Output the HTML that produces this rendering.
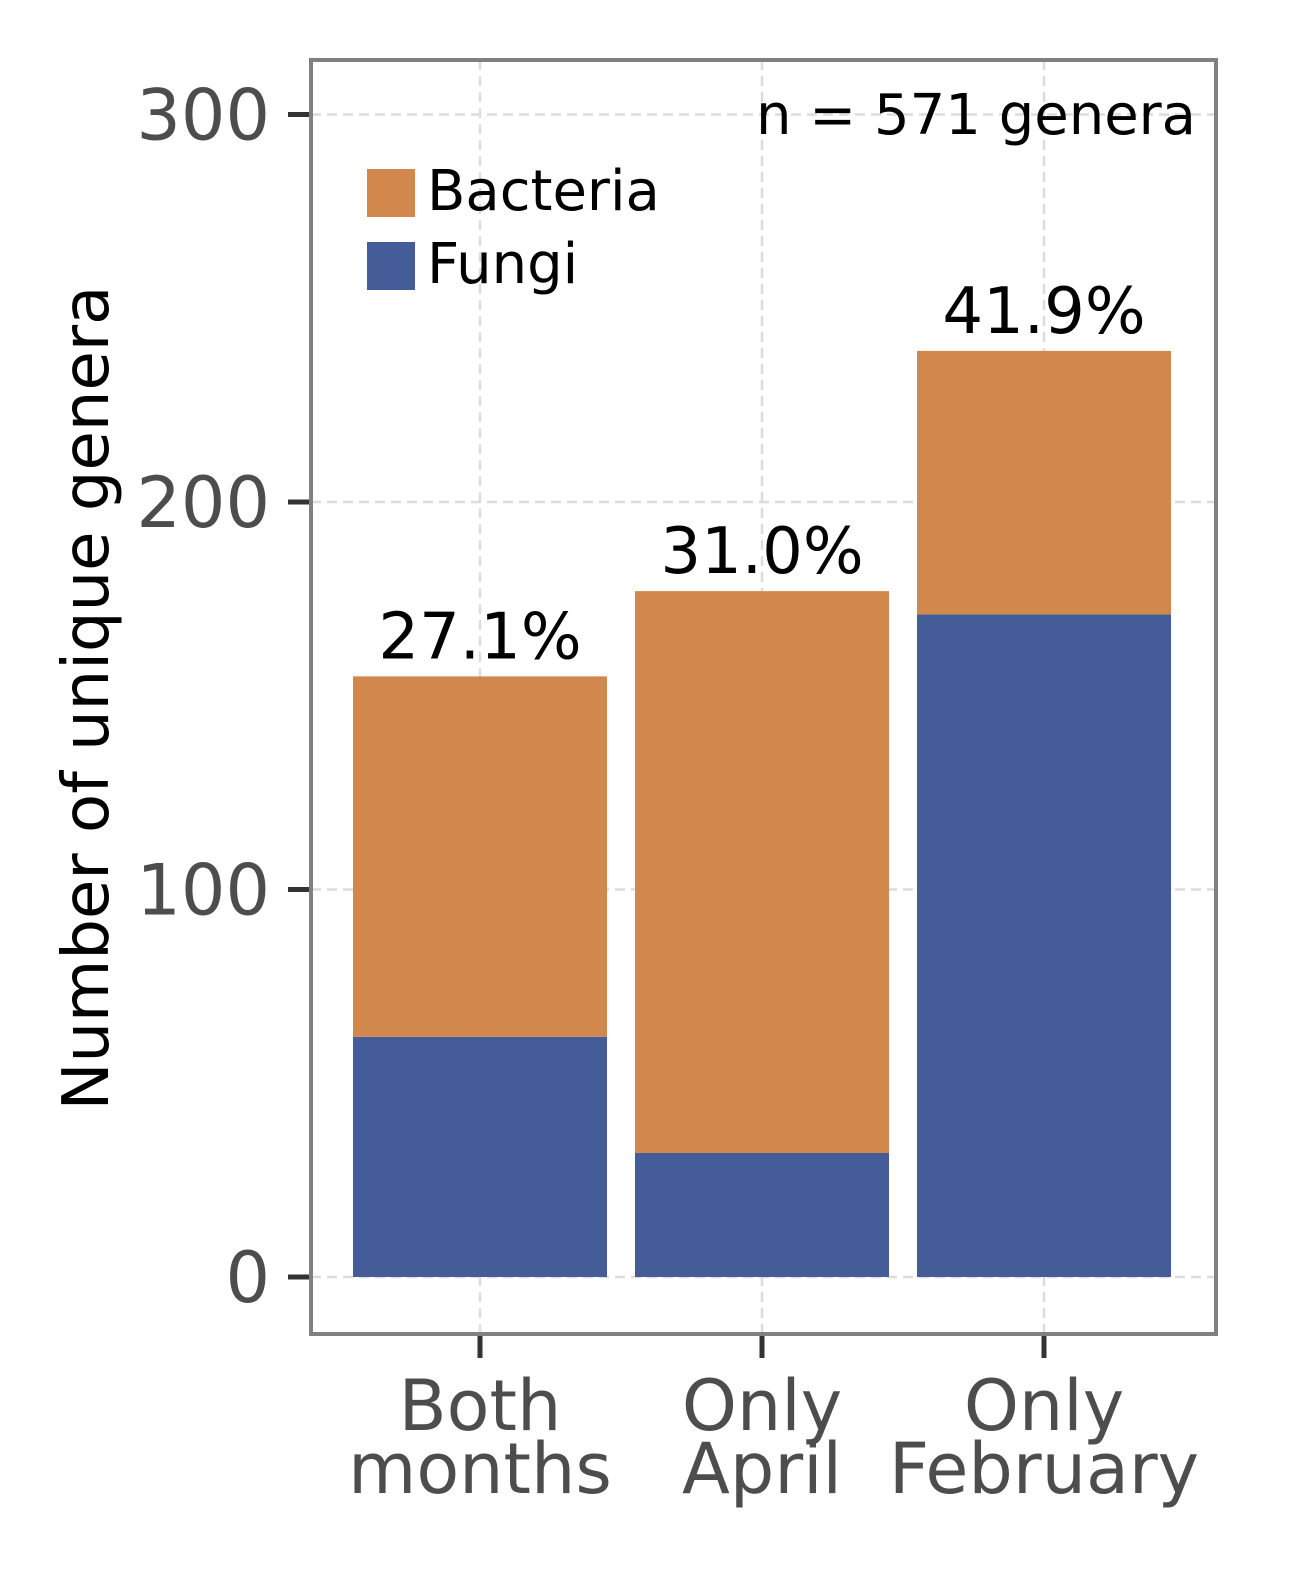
<!DOCTYPE html>
<html><head><meta charset="utf-8"><style>
body{margin:0;background:#fff;}
svg{display:block;font-family:"DejaVu Sans","Liberation Sans",sans-serif;}
</style></head><body>
<svg id="chart" width="1296" height="1596" viewBox="0 0 1296 1596">
<g id="grid"></g>
<g id="bars"></g>
<g id="labels"></g>
<rect x="311" y="60" width="905" height="1274" fill="none" stroke="#808080" stroke-width="4"/>
<g id="yaxis"></g>
<g id="xaxis"></g>
<text x="0" y="0" transform="translate(108,698) rotate(-90)" text-anchor="middle" font-size="64" fill="#000">Number of unique genera</text>
<text x="1196" y="134" text-anchor="end" font-size="56" fill="#000">n = 571 genera</text>
<g>
<rect x="367" y="169" width="48" height="48" fill="#D2884C"/>
<text x="427" y="210" font-size="56" fill="#000">Bacteria</text>
<rect x="367" y="242" width="48" height="48" fill="#445C97"/>
<text x="427" y="283" font-size="56" fill="#000">Fungi</text>
</g>
</svg>
<script>
const categories = [["Both","months"],["Only","April"],["Only","February"]];
const fungi = [62, 32, 171];
const bacteria = [93, 145, 68];
const pctLabels = ["27.1%","31.0%","41.9%"];
const yTicks = [0,100,200,300];

const NS="http://www.w3.org/2000/svg";
const y0=1277, pxPerUnit=3.875;
function yScale(v){return y0 - v*pxPerUnit;}
function xCenter(i){return 480 + i*282;}
const bw=254;
function mk(tag,attrs,parent){const e=document.createElementNS(NS,tag);for(const k in attrs)e.setAttribute(k,attrs[k]);parent.appendChild(e);return e;}
const grid=document.getElementById('grid'),bars=document.getElementById('bars'),labels=document.getElementById('labels'),yaxis=document.getElementById('yaxis'),xaxis=document.getElementById('xaxis');

yTicks.forEach(t=>{
  const y=yScale(t);
  const g=mk('line',{x1:311,x2:1216,y1:y,y2:y,stroke:'#dcdcdc','stroke-width':2.5,'stroke-dasharray':'10,6'},grid);
  
  
  const tk=mk('line',{x1:288,x2:309,y1:y,y2:y,stroke:'#333','stroke-width':5},yaxis);
  
  
  const tx=mk('text',{x:270,y:y+25,'text-anchor':'end','font-size':70,fill:'#4d4d4d'},yaxis);
  tx.textContent=t;
  
  
});
categories.forEach((c,i)=>{
  const x=xCenter(i);
  const g=mk('line',{x1:x,x2:x,y1:60,y2:1334,stroke:'#dcdcdc','stroke-width':2.5,'stroke-dasharray':'10,6'},grid);
  
  
  const tk=mk('line',{x1:x,x2:x,y1:1336,y2:1358,stroke:'#333','stroke-width':5},xaxis);
  
  
  c.forEach((line,j)=>{
    const tx=mk('text',{x:x,y:1430+j*63,'text-anchor':'middle','font-size':70,fill:'#4d4d4d'},xaxis);
    tx.textContent=line;
    
    
  });
  const fy=yScale(fungi[i]);
  const fr=mk('rect',{x:x-bw/2,y:fy,width:bw,height:y0-fy,fill:'#445C97'},bars);
  
  
  const by=yScale(fungi[i]+bacteria[i]);
  const br=mk('rect',{x:x-bw/2,y:by,width:bw,height:fy-by,fill:'#D2884C'},bars);
  
  
  const pl=mk('text',{x:x,y:by-18,'text-anchor':'middle','font-size':64,fill:'#000'},labels);
  pl.textContent=pctLabels[i];
  
  
});
</script>
</body></html>
